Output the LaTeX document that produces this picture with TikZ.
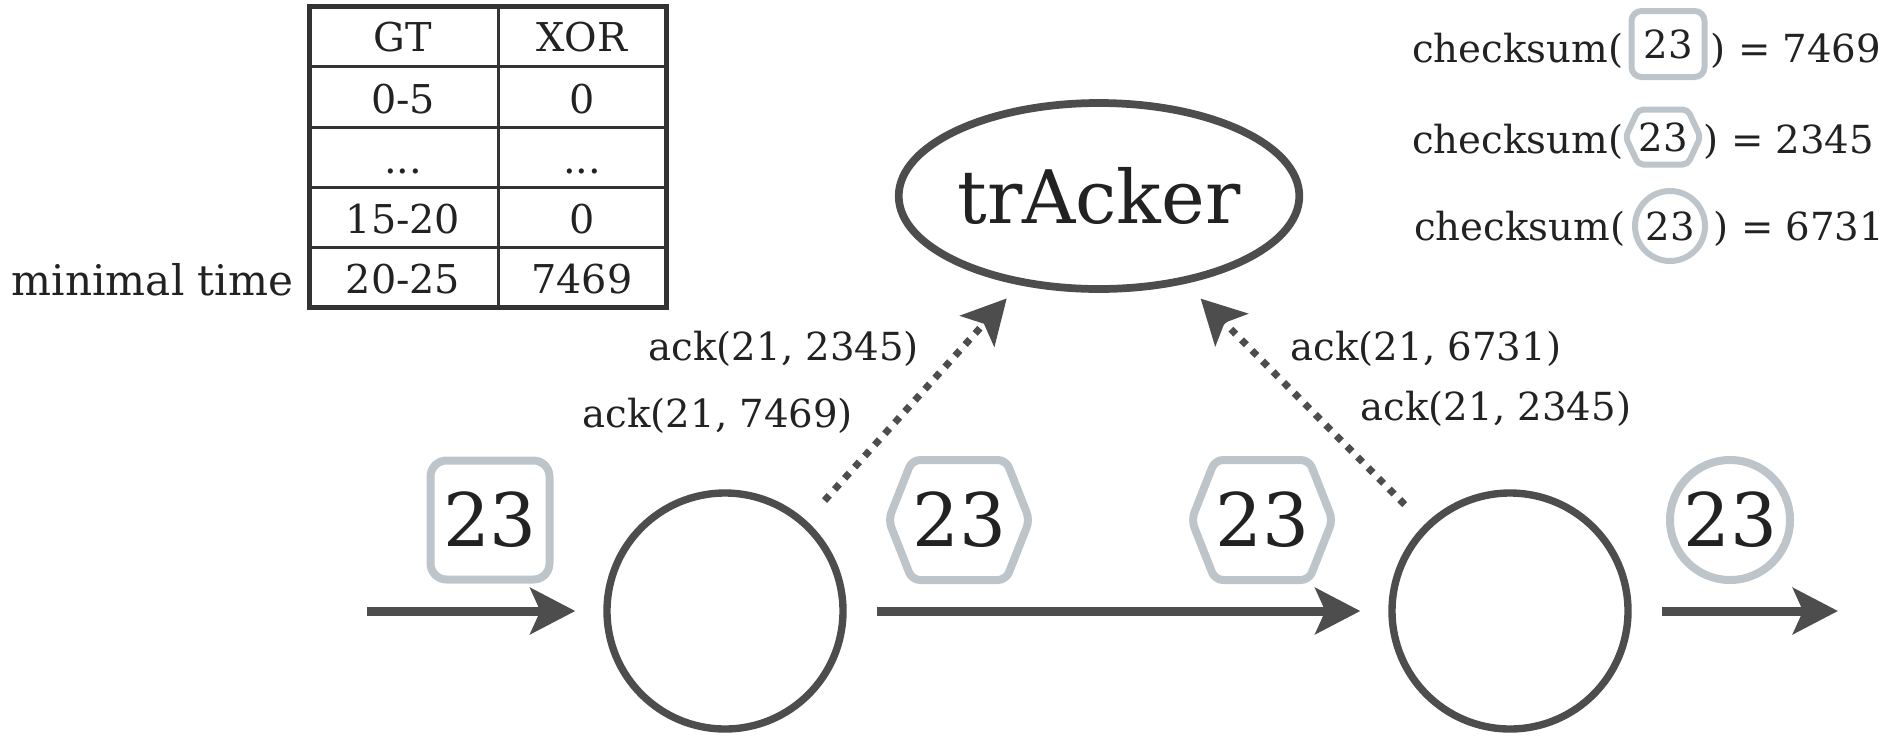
\documentclass[tikz,border=0pt]{standalone}
\usepackage{fontspec}
\setmainfont{DejaVu Serif}
\usetikzlibrary{positioning,shapes.geometric,shapes.symbols,arrows.meta}

\definecolor{wire}{HTML}{4D4D4D}
\definecolor{ink}{HTML}{222222}
\definecolor{pale}{HTML}{BDC5CA}
\definecolor{grid}{HTML}{333333}

\begin{document}
\begin{tikzpicture}[x=0.1mm,y=-0.1mm]
		% Define node styles
		\tikzstyle{router} = [circle, draw=wire, line width=2.1pt, minimum size=23.6mm, inner sep=0pt];
		\tikzstyle{tracker} = [ellipse, draw=wire, line width=2.2pt, minimum width=35.5mm, minimum height=18.6mm, inner sep=0pt, text=ink, font=\fontsize{21}{25}\selectfont];
		\tikzstyle{flow} = [draw=wire, line width=0.9mm, -{Stealth[length=4.5mm, width=4.6mm, inset=1mm]}];
		\tikzstyle{ackline} = [draw=wire, line width=0.7mm, dash pattern=on 0.7mm off 0.8mm, -{Stealth[length=4.4mm, width=4.6mm, inset=1mm]}];
		\tikzstyle{ack} = [text=ink, inner sep=0pt, font=\fontsize{11}{13}\selectfont];
		\tikzstyle{cell} = [text=ink, inner sep=0pt, anchor=base, font=\fontsize{11.3}{13}\selectfont];
		\tikzstyle{pkt} = [draw=pale, line width=0.8mm, inner sep=0pt, text=ink, font=\fontsize{21}{25}\selectfont];
		\tikzstyle{pktsq} = [pkt, rectangle, rounded corners=1.6mm, minimum size=11.9mm];
		\tikzstyle{pkthex} = [pkt, signal, signal to=east and west, signal pointer angle=137, rounded corners=0.8mm, minimum width=11.6mm, minimum height=12mm];
		\tikzstyle{pktcirc} = [pkt, circle, minimum size=12mm];
		\tikzstyle{tag} = [draw=pale, line width=0.6mm, inner sep=0pt, text=ink, font=\fontsize{11}{13}\selectfont];
		\useasboundingbox (0,0) rectangle (1887,735);
		
		% Table of time slots
		\draw[grid, line width=0.3mm] (498,6) -- (498,307);
		\foreach \y in {66,127,187,247}
			\draw[grid, line width=0.3mm] (309,\y) -- (666,\y);
		\draw[grid, line width=0.5mm] (309,6) rectangle (666,307);
		\node[cell] (gt) at (403,51) {GT};
		\node[cell] (xor) at (582,51) {XOR};
		\node[cell] (gt1) at (403,113) {0-5};
		\node[cell] (xor1) at (582,113) {0};
		\node[cell] (gt2) at (403,173) {...};
		\node[cell] (xor2) at (582,173) {...};
		\node[cell] (gt3) at (403,233) {15-20};
		\node[cell] (xor3) at (582,233) {0};
		\node[cell] (gt4) at (403,293) {20-25};
		\node[cell] (xor4) at (582,293) {7469};
		\node[text=ink, inner sep=0pt, anchor=base east, font=\fontsize{12}{14}\selectfont] (minimal) at (294,295) {minimal time};
		
		% Checksums of the three packet kinds
		\node[ack, anchor=base east] (cs1) at (1624,62) {checksum(};
		\node[tag, rectangle, rounded corners=1mm, minimum width=7.3mm, minimum height=6.6mm] (tag1) at (1668,44) {23};
		\node[ack, anchor=base west] (val1) at (1710,62) {) = 7469};
		\node[ack, anchor=base east] (cs2) at (1624,153) {checksum(};
		\node[tag, signal, signal to=east and west, signal pointer angle=130, rounded corners=0.5mm, minimum width=6.4mm, minimum height=5.5mm] (tag2) at (1663,137) {23};
		\node[ack, anchor=base west] (val2) at (1703,153) {) = 2345};
		\node[ack, anchor=base east] (cs3) at (1626,240) {checksum(};
		\node[tag, circle, minimum size=7mm] (tag3) at (1670,226) {23};
		\node[ack, anchor=base west] (val3) at (1713,240) {) = 6731};
		
		% Tracker and the two routers
		\node[tracker] (tracker) at (1099,196) {trAcker};
		\node[router] (left) at (725,611) {};
		\node[router] (right) at (1510,611) {};
		\coordinate (src) at (367,611);
		\coordinate (sink) at (1838,611);
		
		% Packet path
		\draw[flow, shorten >=2.8mm] (src) -- (left);
		\draw[flow, shorten <=3mm, shorten >=2.8mm] (left) -- (right);
		\draw[flow, shorten <=3mm] (right) -- (sink);
		\node[pktsq] (pin) at (490,520) {23};
		\node[pkthex] (pmidA) at (959,520) {23};
		\node[pkthex] (pmidB) at (1262,520) {23};
		\node[pktcirc] (pout) at (1730,520) {23};
		
		% Acknowledgements to the tracker
		\draw[ackline, shorten <=2.7mm, shorten >=1.8mm] (left) -- (tracker);
		\draw[ackline, shorten <=2.8mm, shorten >=2.1mm] (right) -- (tracker);
		\node[ack, anchor=base west] (ackL1) at (648,360) {ack(21, 2345)};
		\node[ack, anchor=base west] (ackL2) at (582,427) {ack(21, 7469)};
		\node[ack, anchor=base west] (ackR1) at (1290,360) {ack(21, 6731)};
		\node[ack, anchor=base west] (ackR2) at (1360,420) {ack(21, 2345)};
	\end{tikzpicture}
\end{document}
